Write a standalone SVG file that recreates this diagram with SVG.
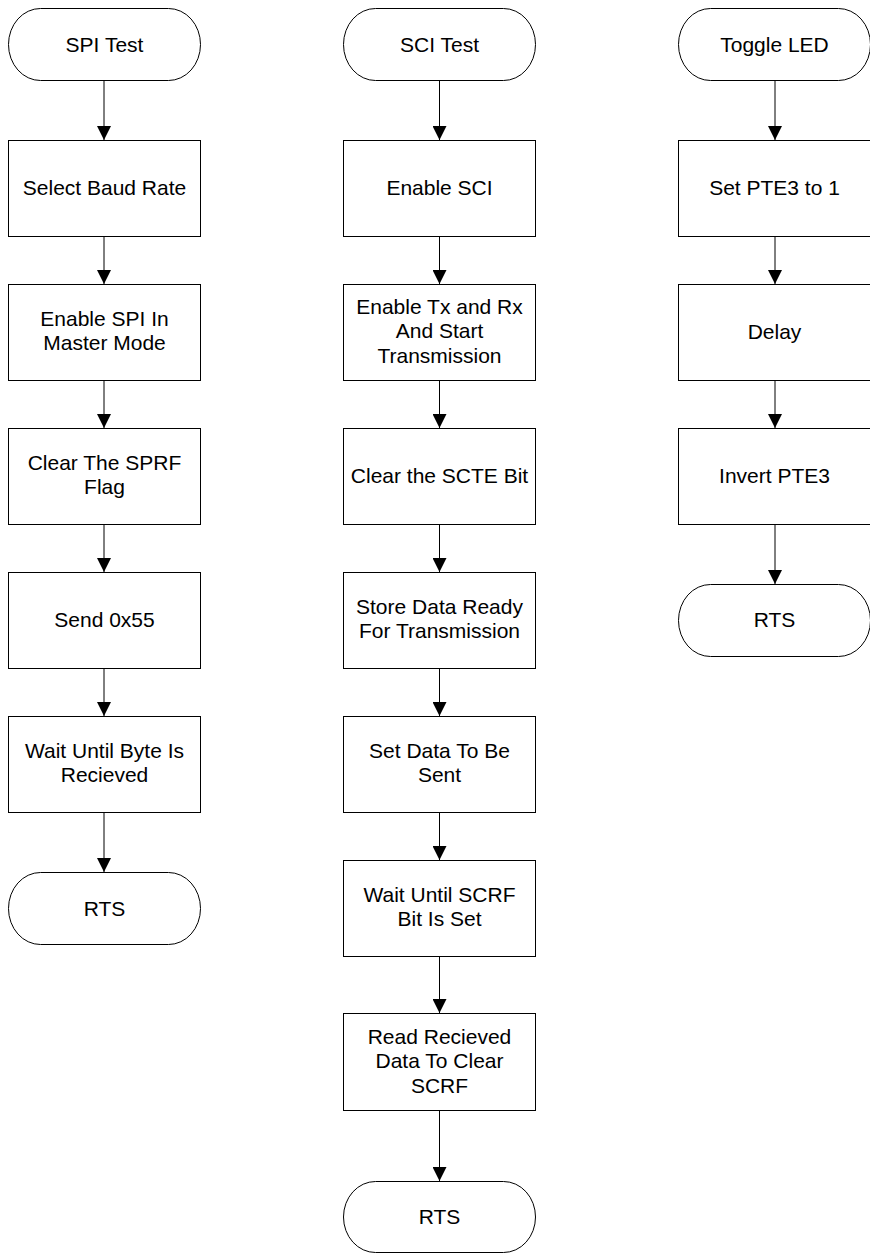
<svg xmlns="http://www.w3.org/2000/svg" width="870" height="1253" viewBox="0 0 870 1253">
<defs>
<style>
.box{fill:#fff;stroke:#000;stroke-width:1}
.t{font-family:"Liberation Sans",Arial,sans-serif;font-size:21px;fill:#000;text-anchor:middle}
.c{stroke:#000;stroke-width:1;fill:none;marker-end:url(#ah)}
</style>
<marker id="ah" markerUnits="userSpaceOnUse" markerWidth="14" markerHeight="14" refX="14" refY="7" orient="auto">
<path d="M0,0 L14,7 L0,14 z" fill="#000"/>
</marker>
</defs>
<rect width="870" height="1253" fill="#fff"/>
<g id="connectors">
<line class="c" x1="104" y1="80" x2="104" y2="140"/>
<line class="c" x1="104" y1="236" x2="104" y2="284"/>
<line class="c" x1="104" y1="380" x2="104" y2="428"/>
<line class="c" x1="104" y1="524" x2="104" y2="572"/>
<line class="c" x1="104" y1="668" x2="104" y2="716"/>
<line class="c" x1="104" y1="812" x2="104" y2="872"/>
<line class="c" x1="439.5" y1="80" x2="439.5" y2="140"/>
<line class="c" x1="439.5" y1="236" x2="439.5" y2="284"/>
<line class="c" x1="439.5" y1="380" x2="439.5" y2="428"/>
<line class="c" x1="439.5" y1="524" x2="439.5" y2="572"/>
<line class="c" x1="439.5" y1="668" x2="439.5" y2="716"/>
<line class="c" x1="439.5" y1="812" x2="439.5" y2="860"/>
<line class="c" x1="439.5" y1="956" x2="439.5" y2="1013"/>
<line class="c" x1="439.5" y1="1110" x2="439.5" y2="1181"/>
<line class="c" x1="775" y1="80" x2="775" y2="140"/>
<line class="c" x1="775" y1="236" x2="775" y2="284"/>
<line class="c" x1="775" y1="380" x2="775" y2="428"/>
<line class="c" x1="775" y1="524" x2="775" y2="584"/>
</g>
<g id="spi_start"><rect class="box" x="8.5" y="8.5" width="192" height="72" rx="32" ry="36"/><text class="t" x="104.5" y="52">SPI Test</text></g>
<g id="spi_baud"><rect class="box" x="8.5" y="140.5" width="192" height="96"/><text class="t" x="104.5" y="195">Select Baud Rate</text></g>
<g id="spi_enable"><rect class="box" x="8.5" y="284.5" width="192" height="96"/><text class="t" x="104.5" y="326">Enable SPI In</text><text class="t" x="104.5" y="350">Master Mode</text></g>
<g id="spi_clear"><rect class="box" x="8.5" y="428.5" width="192" height="96"/><text class="t" x="104.5" y="470">Clear The SPRF</text><text class="t" x="104.5" y="494">Flag</text></g>
<g id="spi_send"><rect class="box" x="8.5" y="572.5" width="192" height="96"/><text class="t" x="104.5" y="627">Send 0x55</text></g>
<g id="spi_wait"><rect class="box" x="8.5" y="716.5" width="192" height="96"/><text class="t" x="104.5" y="758">Wait Until Byte Is</text><text class="t" x="104.5" y="782">Recieved</text></g>
<g id="spi_rts"><rect class="box" x="8.5" y="872.5" width="192" height="72" rx="32" ry="36"/><text class="t" x="104.5" y="916">RTS</text></g>
<g id="sci_start"><rect class="box" x="343.5" y="8.5" width="192" height="72" rx="32" ry="36"/><text class="t" x="439.5" y="52">SCI Test</text></g>
<g id="sci_enable"><rect class="box" x="343.5" y="140.5" width="192" height="96"/><text class="t" x="439.5" y="195">Enable SCI</text></g>
<g id="sci_txrx"><rect class="box" x="343.5" y="284.5" width="192" height="96"/><text class="t" x="439.5" y="314">Enable Tx and Rx</text><text class="t" x="439.5" y="338">And Start</text><text class="t" x="439.5" y="363">Transmission</text></g>
<g id="sci_clear"><rect class="box" x="343.5" y="428.5" width="192" height="96"/><text class="t" x="439.5" y="483">Clear the SCTE Bit</text></g>
<g id="sci_store"><rect class="box" x="343.5" y="572.5" width="192" height="96"/><text class="t" x="439.5" y="614">Store Data Ready</text><text class="t" x="439.5" y="638">For Transmission</text></g>
<g id="sci_set"><rect class="box" x="343.5" y="716.5" width="192" height="96"/><text class="t" x="439.5" y="758">Set Data To Be</text><text class="t" x="439.5" y="782">Sent</text></g>
<g id="sci_wait"><rect class="box" x="343.5" y="860.5" width="192" height="96"/><text class="t" x="439.5" y="902">Wait Until SCRF</text><text class="t" x="439.5" y="926">Bit Is Set</text></g>
<g id="sci_read"><rect class="box" x="343.5" y="1013.5" width="192" height="97"/><text class="t" x="439.5" y="1044">Read Recieved</text><text class="t" x="439.5" y="1068">Data To Clear</text><text class="t" x="439.5" y="1093">SCRF</text></g>
<g id="sci_rts"><rect class="box" x="343.5" y="1181.5" width="192" height="71" rx="32" ry="35.5"/><text class="t" x="439.5" y="1224">RTS</text></g>
<g id="led_start"><rect class="box" x="678.5" y="8.5" width="192" height="72" rx="32" ry="36"/><text class="t" x="774.5" y="52">Toggle LED</text></g>
<g id="led_set"><rect class="box" x="678.5" y="140.5" width="192" height="96"/><text class="t" x="774.5" y="195">Set PTE3 to 1</text></g>
<g id="led_delay"><rect class="box" x="678.5" y="284.5" width="192" height="96"/><text class="t" x="774.5" y="339">Delay</text></g>
<g id="led_invert"><rect class="box" x="678.5" y="428.5" width="192" height="96"/><text class="t" x="774.5" y="483">Invert PTE3</text></g>
<g id="led_rts"><rect class="box" x="678.5" y="584.5" width="192" height="72" rx="32" ry="36"/><text class="t" x="774.5" y="627">RTS</text></g>
</svg>
